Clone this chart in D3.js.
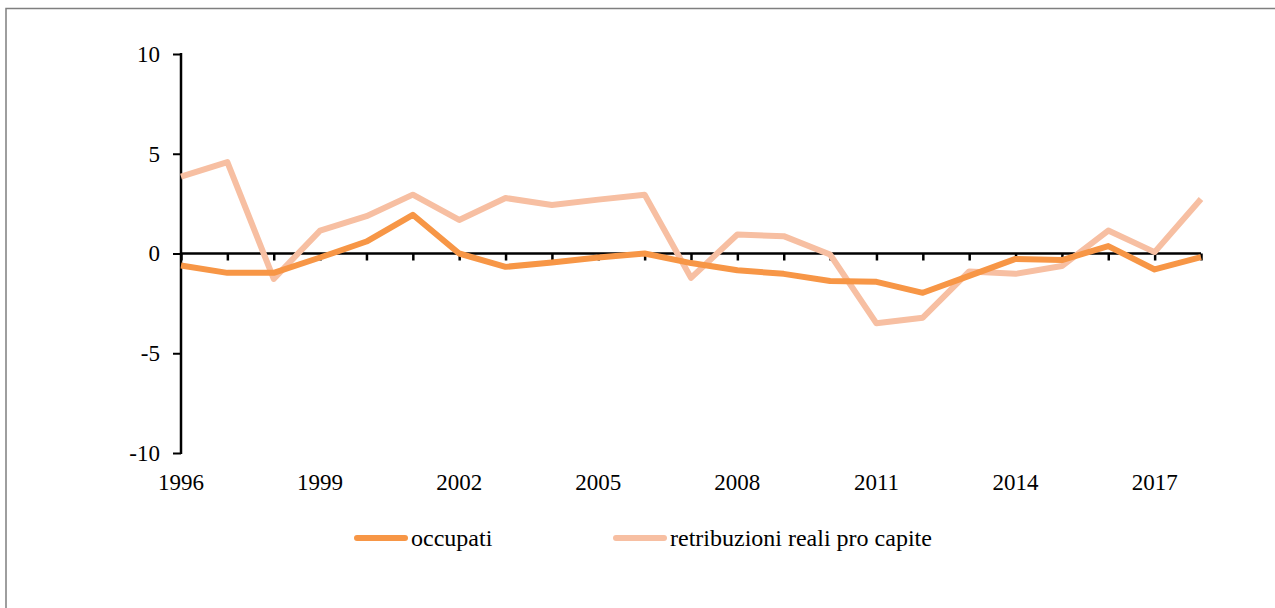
<!DOCTYPE html>
<html>
<head>
<meta charset="utf-8">
<script src="https://cdn.jsdelivr.net/npm/d3@7"></script>
<style>
  body { margin: 0; background: #fff; }
</style>
</head>
<body>
<script>
(function () {
  'use strict';

  const width = 1275,
    height = 608;
  const font = '"Liberation Serif", "Times New Roman", serif';

  // anni e serie (variazioni %)
  var years = d3.range(1996, 2019);
  var occupati = [-0.6, -0.97, -0.97, -0.2, 0.6, 1.94, 0.0, -0.67, -0.45, -0.2, 0.0,
    -0.48, -0.84, -1.02, -1.38, -1.42, -1.97, -1.12, -0.27, -0.33, 0.37, -0.8, -0.18];
  var retribuzioni = [3.85, 4.58, -1.27, 1.15, 1.87, 2.95, 1.68, 2.78, 2.43, 2.7, 2.95,
    -1.22, 0.95, 0.87, -0.05, -3.5, -3.22, -0.9, -1.02, -0.63, 1.15, 0.07, 2.73];
  var yTicks = [-10, -5, 0, 5, 10];
  var xLabels = [1996, 1999, 2002, 2005, 2008, 2011, 2014, 2017];

  var series = [
    { name: 'occupati', values: occupati, color: '#F79646' },
    { name: 'retribuzioni reali pro capite', values: retribuzioni, color: '#F7BFA2' }
  ];

  var svg = d3.select('body')
    .append('svg')
    .attr('width', width)
    .attr('height', height)
    .style('font-family', font);

  // cornice (solo lati superiore e sinistro visibili)
  svg.append('path')
    .attr('d', 'M6,' + height + 'V8.5H' + width)
    .style('fill', 'none')
    .style('stroke', '#7f7f7f')
    .style('stroke-width', 1.5);

  var x = d3.scaleLinear().domain([1996, 2018]).range([181, 1201]);
  var y = d3.scaleLinear().domain([-10, 10]).range([453, 54]);

  // asse y
  var yAxis = d3.axisLeft(y)
    .tickValues(yTicks)
    .tickSize(8)
    .tickPadding(13)
    .tickFormat(d => String(d));

  var gy = svg.append('g')
    .attr('transform', 'translate(181,0)')
    .call(yAxis)
    .attr('font-family', null);
  gy.select('.domain').remove();
  gy.selectAll('line').style('stroke', '#000').style('stroke-width', 2);
  gy.append('line')
    .attr('x1', 0).attr('x2', 0)
    .attr('y1', y(10) - 1).attr('y2', y(-10) + 1)
    .style('stroke', '#000')
    .style('stroke-width', 2.5);
  gy.selectAll('text')
    .style('font-family', font)
    .style('font-size', '23px')
    .style('fill', '#000')
    .attr('dy', '0.32em');

  // asse x sullo zero
  var xAxis = d3.axisBottom(x)
    .tickValues(years)
    .tickSize(7)
    .tickFormat('');

  var gx = svg.append('g')
    .attr('transform', 'translate(0,' + y(0) + ')')
    .call(xAxis);
  gx.select('.domain').remove();
  gx.selectAll('line').style('stroke', '#000').style('stroke-width', 2.5);
  gx.append('line')
    .attr('x1', x(1996)).attr('x2', x(2018))
    .style('stroke', '#000')
    .style('stroke-width', 2.5);

  // etichette anni sotto il grafico
  svg.selectAll('text.year')
    .data(xLabels)
    .enter()
    .append('text')
    .attr('class', 'year')
    .attr('x', d => x(d))
    .attr('y', 490)
    .attr('text-anchor', 'middle')
    .style('font-family', font)
    .style('font-size', '23px')
    .style('fill', '#000')
    .text(d => d);

  // linee
  var line = d3.line()
    .x((d, i) => x(years[i]))
    .y(d => y(d));

  svg.selectAll('path.serie')
    .data(series.slice().reverse())
    .enter()
    .append('path')
    .attr('class', 'serie')
    .attr('d', d => line(d.values))
    .style('fill', 'none')
    .style('stroke', d => d.color)
    .style('stroke-width', 6)
    .style('stroke-linejoin', 'round');

  // legenda
  var legX = [357, 616];
  var leg = svg.selectAll('g.leg')
    .data(series)
    .enter()
    .append('g')
    .attr('class', 'leg')
    .attr('transform', (d, i) => 'translate(' + legX[i] + ',538)');

  leg.append('line')
    .attr('x1', 0).attr('x2', 48)
    .style('stroke', d => d.color)
    .style('stroke-width', 6)
    .style('stroke-linecap', 'round');

  leg.append('text')
    .attr('x', 54)
    .attr('y', 8)
    .style('font-family', font)
    .style('font-size', '24px')
    .style('fill', '#000')
    .text(d => d.name);
})();
</script>
</body>
</html>
